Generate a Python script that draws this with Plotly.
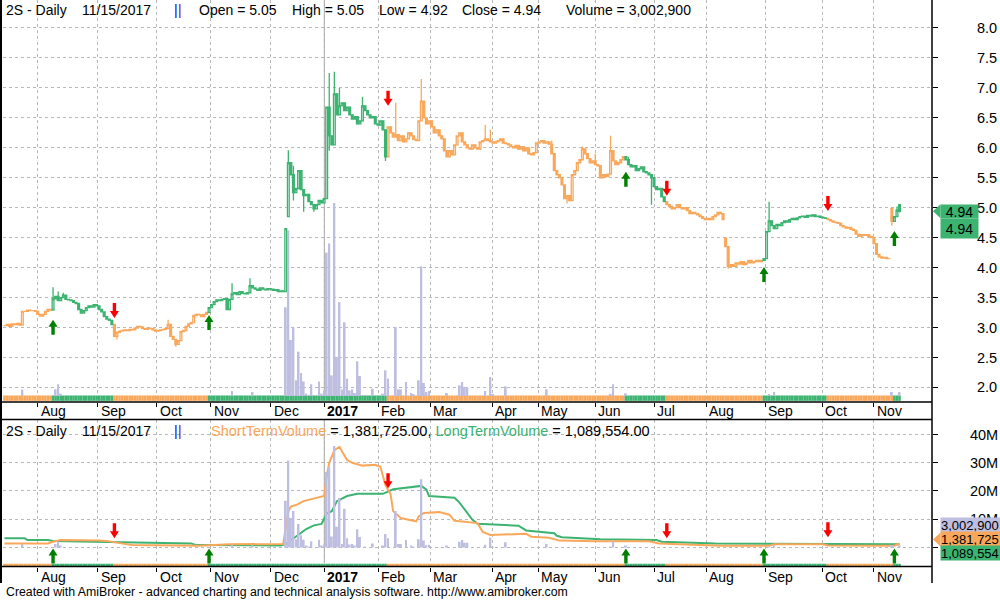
import plotly.graph_objects as go

# ---------------- data ----------------
ticker = "2S - Daily"
last_date = "11/15/2017"

# month starts as bar positions on the reference x axis, and their labels
month_pos = [13, 36.5, 59.5, 80.7, 104.1, 125.1, 146.2, 166.4, 190.7, 208.7,
             231, 254, 274.4, 297.5, 319.7, 340]
month_lbl = ["Aug", "Sep", "Oct", "Nov", "Dec", "2017", "Feb", "Mar", "Apr", "May",
             "Jun", "Jul", "Aug", "Sep", "Oct", "Nov"]

close = [
    3.03, 3.05, 3.02, 3.06, 3.05, 3.07, 3.04,
    3.27, 3.27, 3.29, 3.28, 3.28, 3.27,
    3.22, 3.19, 3.22, 3.27, 3.30, 3.29,
    3.48, 3.52, 3.45, 3.50, 3.54, 3.47,
    3.46, 3.45, 3.42, 3.40, 3.30, 3.24,
    3.28, 3.33, 3.36, 3.34, 3.38, 3.36, 3.30,
    3.26, 3.18, 3.14, 3.12, 3.05,
    2.85, 2.92, 2.94, 2.95, 2.96, 2.95, 2.97, 2.96,
    2.99, 3.02, 3.01, 2.98, 2.97, 2.99, 2.98, 2.96, 2.94,
    2.95, 2.96, 2.97, 2.98, 3.05,
    2.85, 2.80, 2.72, 2.78,
    2.93, 2.95, 3.02, 3.06, 3.08,
    3.20, 3.22, 3.21, 3.18, 3.22, 3.25,
    3.33, 3.38, 3.43, 3.46, 3.45, 3.47, 3.48, 3.30, 3.47,
    3.56, 3.58, 3.55, 3.60, 3.57, 3.56, 3.58, 3.70,
    3.66, 3.64, 3.62, 3.66, 3.64, 3.63, 3.65, 3.64, 3.62, 3.63, 3.60, 3.61, 3.60,
    4.65, 5.75,
    5.55, 5.25, 5.32, 5.62, 5.30, 5.20,
    5.22, 5.10, 5.05, 4.98, 5.05, 5.12, 5.08, 5.15,
    6.68, 6.20, 6.05, 6.90, 6.55, 6.70,
    6.75, 6.62, 6.68, 6.55, 6.48, 6.52, 6.40, 6.45,
    6.70, 6.62, 6.55, 6.50, 6.52,
    6.40, 6.38, 6.45, 6.30, 5.85,
    6.35, 6.25, 6.18, 6.22, 6.12, 6.20, 6.10, 6.15, 6.25, 6.20, 6.14,
    6.12, 6.45, 6.78, 6.50, 6.40,
    6.45, 6.35, 6.25, 6.30, 6.20, 6.15,
    5.95, 5.85, 5.95, 5.88, 6.05,
    6.20, 6.25, 6.10, 6.05, 6.00, 5.98, 6.05,
    6.00, 5.98, 6.10, 6.12, 6.15, 6.12, 6.10, 6.08,
    6.10, 6.12, 6.15, 6.08, 6.07,
    6.05, 6.02, 6.00, 6.04, 5.98, 6.02, 5.95, 6.00,
    5.90, 5.88, 5.92,
    6.08, 6.10, 6.12, 6.08, 6.10, 6.06,
    5.90, 5.62, 5.55, 5.50, 5.38,
    5.15, 5.20, 5.12,
    5.55, 5.62, 5.75, 5.80, 5.98, 5.90,
    5.82, 5.75, 5.78, 5.72, 5.70,
    5.50, 5.55, 5.52, 5.56, 5.95,
    5.78, 5.72, 5.75, 5.80, 5.85,
    5.80, 5.72, 5.68, 5.70, 5.62, 5.65, 5.68, 5.60,
    5.58, 5.55, 5.50, 5.35, 5.30,
    5.32, 5.18, 5.10,
    5.05, 5.02, 4.98, 5.00, 5.05, 5.00, 4.98, 5.00,
    4.95, 4.90, 4.92, 4.90, 4.88,
    4.85, 4.82, 4.80, 4.82, 4.80,
    4.85, 4.88, 4.92, 4.90, 4.80,
    4.35, 4.02,
    4.05, 4.02, 4.08, 4.06, 4.10, 4.05, 4.08, 4.12, 4.08, 4.10, 4.12, 4.10,
    4.12, 4.15, 4.60, 4.78,
    4.70, 4.65, 4.72, 4.70,
    4.75, 4.78, 4.76, 4.80, 4.82, 4.80, 4.83, 4.85,
    4.86, 4.84, 4.87, 4.86, 4.88, 4.85, 4.86, 4.84, 4.83, 4.82,
    4.80, 4.78, 4.76, 4.75, 4.74,
    4.70, 4.68, 4.66, 4.67, 4.64, 4.62,
    4.56, 4.52, 4.55, 4.54, 4.55, 4.52, 4.50,
    4.40, 4.22, 4.18, 4.16, 4.17, 4.15, 4.15,
    4.77, 4.85, 4.96, 4.94,
]
# bars whose open differs from the previous close (gaps)
open_gap = {111: 4.85, 282: 4.49, 347: 4.99, 350: 5.05}
# visible wicks
high_wick = {19: 3.67, 21: 3.60, 23: 3.58, 64: 3.13, 89: 3.74, 96: 3.82, 111: 5.96,
             113: 5.70, 127: 7.25, 129: 7.27, 131: 7.00, 140: 6.85, 153: 6.75,
             163: 7.15, 188: 6.38, 190: 6.30, 214: 6.12, 226: 6.02, 231: 5.90,
             237: 6.20, 244: 5.85, 299: 5.10, 349: 5.02, 350: 5.05}
low_wick = {44: 2.80, 67: 2.68, 113: 5.12, 117: 4.93, 121: 4.93, 127: 5.95,
            149: 5.78, 220: 5.07, 253: 5.05, 283: 3.98, 347: 4.70, 350: 4.92}
# visible volume bars, millions of shares (other days ~0)
volume_m = {7: 4.9, 20: 5.1, 21: 9.0, 22: 1.8, 89: 3.8, 97: 3.1, 110: 68, 111: 127,
            112: 43, 113: 53, 114: 12, 115: 34, 116: 17.6, 117: 11.2, 118: 1.8,
            119: 0.5, 120: 9.0, 123: 11.2, 124: 1.8, 125: 4.3, 126: 110, 127: 117,
            128: 15.8, 129: 148, 130: 30, 131: 72, 132: 4.9, 133: 56.5, 134: 13.3,
            135: 4.3, 136: 5.1, 137: 2.3, 138: 26.6, 139: 15.3, 141: 0.5, 144: 5.6,
            148: 1.8, 149: 19.7, 150: 13.3, 153: 53, 154: 5.1, 155: 5.1, 157: 10.7,
            159: 2.3, 160: 1.3, 162: 12, 163: 99.5, 164: 10, 165: 3.1, 166: 3.8,
            173: 2.3, 178: 8.2, 179: 10.7, 180: 6.9, 181: 6.9, 188: 3.8, 190: 14.6,
            191: 1.0, 196: 7.4, 212: 5.1, 237: 0.8, 238: 9.0, 243: 2.0, 299: 1.3,
            301: 3.1, 347: 3.1, 350: 3.0029}
# trend regime changes (bar index, direction)
trend_changes = [(0, "down"), (19, "up"), (43, "down"), (80, "up"), (150, "down"),
                 (243, "up"), (259, "down"), (297, "up"), (322, "down"), (348, "up")]
buy_arrow_price = [3.13, 3.21, 5.60, 4.01, 4.61]
sell_arrow_price = [3.16, 6.70, 5.20, 4.945]
buy_arrow_vol = [-0.4, -0.4, -0.4, -0.4, -0.4]
sell_arrow_vol = [3.2, 21.0, 3.2, 3.6]
# volume averages (bar index, millions)
short_vol_pts = [(0, 1.4), (17, 1.4), (19, 2.0), (22, 2.6), (37, 2.4), (40, 2.3), (45, 1.5),
                 (50, 0.8), (76, 0.6), (82, 0.9), (88, 1.1), (109, 1.2), (110, 6.5),
                 (111, 12.8), (112, 14.5), (114, 15.0), (117, 16.4), (123, 17.6),
                 (125, 18.2), (126, 25.0), (127, 30.0), (129, 34.5), (131, 35.6),
                 (132, 34.0), (134, 31.0), (136, 30.0), (140, 29.0), (145, 29.3),
                 (147, 28.6), (149, 22.0), (151, 18.8), (152, 12.8), (155, 10.4),
                 (158, 9.8), (161, 9.2), (162, 11.0), (164, 12.2), (170, 12.5),
                 (174, 11.6), (176, 9.4), (182, 8.8), (185, 8.6), (187, 5.5), (190, 4.4),
                 (204, 4.8), (206, 3.8), (213, 3.4), (217, 2.4), (231, 2.2), (252, 2.2),
                 (256, 1.4), (274, 0.8), (280, 0.6), (299, 0.6), (301, 1.1), (320, 1.1),
                 (322, 0.7), (348, 0.6), (350, 1.381725)]
long_vol_pts = [(0, 3.2), (8, 3.2), (9, 2.6), (17, 2.6), (19, 2.3), (40, 2.0), (43, 1.8),
                (73, 1.4), (75, 0.8), (108, 0.7), (110, 1.2), (112, 2.5), (115, 4.5),
                (118, 6.5), (121, 7.8), (124, 8.3), (126, 12.0), (128, 12.8), (130, 16.4),
                (134, 18.2), (138, 19.0), (148, 19.0), (152, 20.6), (161, 21.5),
                (163, 21.8), (165, 20.5), (166, 18.2), (176, 17.6), (178, 15.8),
                (183, 9.8), (185, 8.4), (201, 7.7), (204, 6.0), (215, 5.0), (216, 4.1),
                (218, 3.6), (231, 3.2), (233, 2.9), (255, 2.6), (257, 2.0), (278, 1.4),
                (325, 1.15), (350, 1.089554)]

# ---------------- styles ----------------
ORANGE = "#F9A85B"
GREEN = "#3CB371"
LAVENDER = "#BEBEE0"
GRID = "#B8B8B8"
FONT = "Arial, Liberation Sans, sans-serif"

# ---------------- derived structures ----------------
N = len(close)
idx = list(range(N))
opens = [open_gap.get(i, close[i - 1] if i > 0 else close[0]) for i in idx]
highs = [max(high_wick.get(i, 0), opens[i], close[i]) for i in idx]
lows = [min(low_wick.get(i, 99), opens[i], close[i]) for i in idx]
volume = [volume_m.get(i, 0.0) for i in idx]

regime = []
for i in idx:
    cur = "down"
    for s, d in trend_changes:
        if i >= s:
            cur = d
    regime.append(cur)
reg_color = [GREEN if r == "up" else ORANGE for r in regime]
buy_idx = [s for s, d in trend_changes if d == "up"]
sell_idx = [s for s, d in trend_changes[1:] if d == "down"]
year_pos = [p for p, l in zip(month_pos, month_lbl) if l.isdigit()]

# pixel helpers (figure 1000x600, margins 0 -> paper coords = pixels)
def px(x):
    return x / 1000.0

def py(y):
    return 1 - y / 600.0

XR = [-0.57, 362.7]
fig = go.Figure()

# top panel volume overlay
fig.add_trace(go.Bar(x=idx, y=volume, xaxis="x", yaxis="y3", marker_color=LAVENDER,
                     marker_line_width=0, width=0.75, hoverinfo="skip", showlegend=False))
# trend ribbon (top)
fig.add_trace(go.Bar(x=idx, y=[0.09] * N, base=1.775, xaxis="x", yaxis="y",
                     marker_color=reg_color, marker_line_width=0, width=1.0,
                     hoverinfo="skip", showlegend=False))
# candles split by regime
for reg, col in (("down", ORANGE), ("up", GREEN)):
    sel = [i for i in idx if regime[i] == reg]
    fig.add_trace(go.Candlestick(
        x=sel, open=[opens[i] for i in sel], high=[highs[i] for i in sel],
        low=[lows[i] for i in sel], close=[close[i] for i in sel],
        xaxis="x", yaxis="y", whiskerwidth=0,
        increasing=dict(line=dict(color=col, width=1.3), fillcolor="white"),
        decreasing=dict(line=dict(color=col, width=1.3), fillcolor=col),
        showlegend=False, hoverinfo="skip"))

# lower panel volume bars
fig.add_trace(go.Bar(x=idx, y=volume, xaxis="x2", yaxis="y4", marker_color=LAVENDER,
                     marker_line_width=0, width=0.75, hoverinfo="skip", showlegend=False))
fig.add_trace(go.Bar(x=idx, y=[1.0] * N, base=-6.79, xaxis="x2", yaxis="y2",
                     marker_color=reg_color, marker_line_width=0, width=1.0,
                     hoverinfo="skip", showlegend=False))
fig.add_trace(go.Scatter(x=[p[0] for p in long_vol_pts], y=[p[1] for p in long_vol_pts],
                         xaxis="x2", yaxis="y2", mode="lines",
                         line=dict(color=GREEN, width=2), showlegend=False, hoverinfo="skip"))
fig.add_trace(go.Scatter(x=[p[0] for p in short_vol_pts], y=[p[1] for p in short_vol_pts],
                         xaxis="x2", yaxis="y2", mode="lines",
                         line=dict(color=ORANGE, width=2), showlegend=False, hoverinfo="skip"))

shapes = []
annotations = []

def arrow(xi, yv, yref, up, color):
    if up:
        path = "M0,0 L-4.5,-7 L-1.7,-7 L-1.7,-15 L1.7,-15 L1.7,-7 L4.5,-7 Z"
    else:
        path = "M0,0 L-4.5,7 L-1.7,7 L-1.7,15 L1.7,15 L1.7,7 L4.5,7 Z"
    shapes.append(dict(type="path", xref="x", yref=yref, xsizemode="pixel", ysizemode="pixel",
                       xanchor=xi, yanchor=yv, path=path, fillcolor=color,
                       line=dict(width=0), layer="above"))

for i, v in zip(buy_idx, buy_arrow_price):
    arrow(i, v, "y", True, "#008000")
for i, v in zip(sell_idx, sell_arrow_price):
    arrow(i, v, "y", False, "#FF0000")
for i, v in zip(buy_idx, buy_arrow_vol):
    arrow(i, v, "y2", True, "#008000")
for i, v in zip(sell_idx, sell_arrow_vol):
    arrow(i, v, "y2", False, "#FF0000")

# year separators
for yp in year_pos:
    shapes.append(dict(type="line", xref="x", yref="paper", x0=yp, x1=yp, y0=py(395), y1=1,
                       line=dict(color="#B0B0B0", width=1.2), layer="below"))
    shapes.append(dict(type="line", xref="x", yref="paper", x0=yp, x1=yp, y0=py(563), y1=py(420),
                       line=dict(color="#B0B0B0", width=1.2), layer="below"))

# frame lines
shapes.append(dict(type="line", xref="paper", yref="paper", x0=px(1), x1=px(1), y0=py(583), y1=1,
                   line=dict(color="black", width=2)))
shapes.append(dict(type="line", xref="paper", yref="paper", x0=px(932), x1=px(932), y0=py(583), y1=1,
                   line=dict(color="black", width=1.5)))
for yy in (402, 419.5, 566.5):
    shapes.append(dict(type="line", xref="paper", yref="paper", x0=0, x1=px(932), y0=py(yy), y1=py(yy),
                       line=dict(color="black", width=1.5)))

# month labels rows
for p, lbl in zip(month_pos, month_lbl):
    text = "<b>%s</b>" % lbl if lbl.isdigit() else lbl
    for yrow in (411, 577):
        annotations.append(dict(x=p, xref="x", y=py(yrow), yref="paper", text=text,
                                xanchor="left", yanchor="middle", xshift=1, showarrow=False,
                                font=dict(family=FONT, size=14, color="black")))

def txt(x, y, text, color="black", size=14):
    annotations.append(dict(x=px(x), y=py(y), xref="paper", yref="paper", text=text,
                            xanchor="left", yanchor="middle", showarrow=False,
                            font=dict(family=FONT, size=size, color=color)))

for yrow in (10, 431):
    txt(4, yrow, ticker)
    txt(80, yrow, last_date)
    txt(172, yrow, "|", "#0000FF")
    txt(176, yrow, "|", "#8000C0")
txt(197, 10, "Open = %.2f" % opens[-1])
txt(290, 10, "High = %.2f" % highs[-1])
txt(377, 10, "Low = %.2f" % lows[-1])
txt(460, 10, "Close = %.2f" % close[-1])
txt(564, 10, "Volume = {:,.0f}".format(volume[-1] * 1e6))
short_last = short_vol_pts[-1][1]
long_last = long_vol_pts[-1][1]
txt(209, 431, "<span style='color:%s'>ShortTermVolume</span> = {:,.2f}, "
    "<span style='color:%s'>LongTermVolume</span> = {:,.2f}".format(short_last * 1e6, long_last * 1e6)
    % (ORANGE, GREEN), size=14.5)
txt(4, 592, "Created with AmiBroker - advanced charting and technical analysis software. "
    "http://www.amibroker.com", size=12.3)

# value tags on the right
def tag(yv, yref, text, color, shift, height, pointer):
    annotations.append(dict(x=px(940), xref="paper", y=yv, yref=yref, yshift=shift,
                            text=text, xanchor="left", yanchor="middle", showarrow=False,
                            bgcolor=color, width=60, height=height, align="left", borderpad=0,
                            font=dict(family=FONT, size=13, color="black")))
    if pointer:
        shapes.append(dict(type="path", xref="paper", yref=yref, ysizemode="pixel", yanchor=yv,
                           path="M%.4f,%d L%.4f,%d L%.4f,%d Z" % (px(933), shift, px(940.5), shift + 7,
                                                              px(940.5), shift - 7),
                           fillcolor=color, line=dict(width=0)))

annotations.append(dict(x=px(940), xref="paper", y=close[-1], yref="y", text="%.2f" % close[-1],
                        xanchor="left", yanchor="middle", showarrow=False, bgcolor=GREEN,
                        width=37, height=13, borderpad=0,
                        font=dict(family=FONT, size=14, color="black")))
shapes.append(dict(type="path", xref="paper", yref="y", ysizemode="pixel", yanchor=close[-1],
                   path="M%.4f,0 L%.4f,7 L%.4f,-7 Z" % (px(933), px(940.5), px(940.5)),
                   fillcolor=GREEN, line=dict(width=0)))
annotations.append(dict(x=px(940), xref="paper", y=close[-1], yref="y", yshift=-17,
                        text="%.2f" % close[-1], xanchor="left", yanchor="middle", showarrow=False,
                        bgcolor=GREEN, width=37, height=19, borderpad=0,
                        font=dict(family=FONT, size=14, color="black")))
tag(short_last, "y2", "{:,.0f}".format(volume[-1] * 1e6), LAVENDER, 18, 14, False)
tag(short_last, "y2", "{:,.0f}".format(short_last * 1e6), ORANGE, 4, 14, True)
tag(short_last, "y2", "{:,.0f}".format(long_last * 1e6), GREEN, -10, 14, False)

axis_common = dict(showgrid=True, griddash="dot", gridcolor=GRID, gridwidth=1, zeroline=False)
fig.update_layout(
    width=1000, height=600, margin=dict(l=0, r=0, t=0, b=0),
    paper_bgcolor="white", plot_bgcolor="white", barmode="overlay", boxgap=0.0,
    showlegend=False, font=dict(family=FONT, color="black"),
    xaxis=dict(domain=[0.003, 0.932], range=XR, anchor="y", tickvals=month_pos,
               showticklabels=False, ticks="outside", ticklen=4, tickcolor="black",
               showline=False, rangeslider=dict(visible=False), **axis_common),
    xaxis2=dict(domain=[0.003, 0.932], range=XR, anchor="y2", tickvals=month_pos,
                showticklabels=False, ticks="outside", ticklen=4, tickcolor="black",
                showline=False, rangeslider=dict(visible=False), **axis_common),
    yaxis=dict(domain=[py(402), 1], range=[1.756, 8.467], side="right", anchor="x",
               tickvals=[2 + 0.5 * k for k in range(13)],
               ticktext=["%.1f" % (2 + 0.5 * k) for k in range(13)],
               ticks="outside", ticklen=5, tickcolor="black", ticklabelstandoff=36,
               tickfont=dict(size=14.5, color="black"), showline=False, **axis_common),
    yaxis2=dict(domain=[py(566.5), py(419.5)], range=[-6.79, 45.36], side="right", anchor="x2",
                tickvals=[0, 10, 20, 30, 40], ticktext=["", "10M", "20M", "30M", "40M"],
                ticks="outside", ticklen=5, tickcolor="black", ticklabelstandoff=29,
                tickfont=dict(size=14.5, color="black"), showline=False, **axis_common),
    yaxis3=dict(overlaying="y", range=[-4.6, 303.7], visible=False, anchor="x"),
    yaxis4=dict(overlaying="y2", range=[-27.9, 186.8], visible=False, anchor="x2"),
    shapes=shapes, annotations=annotations,
)

fig.write_html("out.html", config={"displayModeBar": False},
               post_script="document.body.style.margin='0px';"
                           "document.body.style.overflow='hidden';")
